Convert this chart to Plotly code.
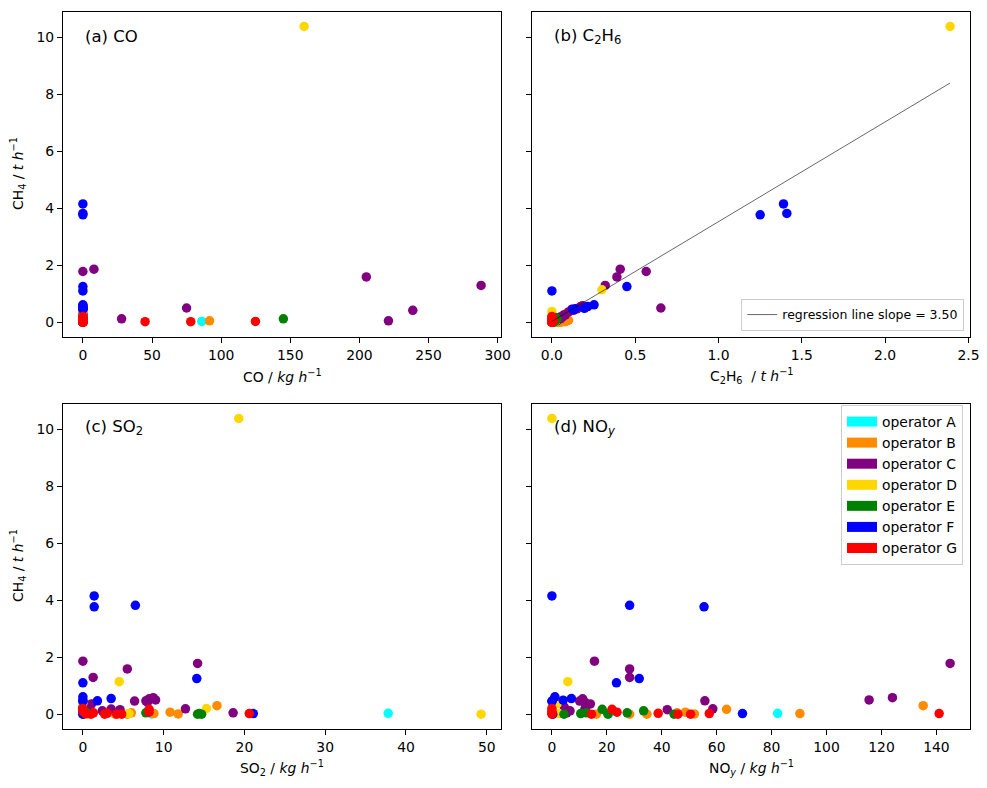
import plotly.graph_objects as go

# ---------------- data (one entry per source) ----------------
OPERATOR = (["A"] * 2 + ["B"] * 9 + ["C"] * 18 + ["D"] * 6 + ["E"] * 8 + ["F"] * 12 + ["G"] * 12)

CH4 = [
    # A
    0.03, 0.01,
    # B
    0.30, 0.17, 0.07, 0.05, 0.02, 0.01, 0.00, 0.00, 0.00,
    # C
    1.86, 1.78, 1.59, 1.29, 0.58, 0.50, 0.54, 0.47, 0.46, 0.42, 0.36, 0.25, 0.25, 0.12, 0.05, 0.16, 0.19, 0.18,
    # D
    10.38, 1.14, 0.38, 0.20, 0.02, 0.00,
    # E
    0.12, 0.17, 0.05, 0.00, 0.00, 0.02, 0.05, 0.00,
    # F
    4.15, 3.82, 3.77, 1.25, 1.10, 0.61, 0.55, 0.49, 0.47, 0.45, 0.02, 0.00,
    # G
    0.17, 0.07, 0.02, 0.02, 0.03, 0.00, 0.00, 0.00, 0.10, 0.00, 0.05, 0.20,
]

CO = [
    86, 0,
    0, 0, 0, 91.6, 0, 0, 0, 0, 0,
    8, 0, 205, 288, 0, 75, 0, 0, 0, 238.6, 0, 0, 0, 28, 221, 0, 0, 0,
    160, 0, 0, 0, 0, 0,
    145, 0, 0, 0, 0, 0, 0, 0,
    0, 0, 0, 0, 0, 0, 0, 0, 0, 0, 0, 0,
    0, 0, 45, 78, 124.8, 0, 0, 0, 0, 0, 0, 0,
]

C2H6 = [
    0.01, 0.00,
    0.085, 0.07, 0.10, 0.09, 0.08, 0.06, 0.05, 0.04, 0.03,
    0.41, 0.566, 0.39, 0.32, 0.183, 0.654, 0.17, 0.15, 0.12, 0.13, 0.10, 0.08, 0.07, 0.05, 0.03, 0.06, 0.06, 0.05,
    2.39, 0.30, 0.00, 0.00, 0.02, 0.00,
    0.03, 0.02, 0.02, 0.01, 0.01, 0.01, 0.02, 0.00,
    1.39, 1.41, 1.25, 0.45, 0.00, 0.253, 0.215, 0.195, 0.14, 0.125, 0.00, 0.00,
    0.00, 0.01, 0.00, 0.00, 0.00, 0.00, 0.00, 0.00, 0.00, 0.00, 0.00, 0.00,
]

SO2 = [
    37.8, 8.5,
    16.6, 0.2, 10.8, 6.0, 8.8, 11.8, 0.5, 4.0, 5.5,
    0.0, 14.2, 5.5, 1.27, 8.7, 9.0, 8.2, 7.8, 6.4, 8.0, 1.07, 0.0, 0.5, 2.4, 18.6, 4.6, 12.7, 3.5,
    19.3, 4.5, 0.0, 15.3, 5.7, 49.3,
    0.0, 0.0, 7.8, 14.2, 14.7, 14.4, 0.5, 0.0,
    1.4, 6.5, 1.4, 14.1, 0.0, 0.0, 3.5, 0.0, 1.8, 0.0, 21.1, 0.0,
    8.2, 8.2, 0.3, 20.6, 3.0, 1.0, 4.2, 4.8, 0.0, 2.7, 1.3, 0.0,
]

NOY = [
    82.2, 20.7,
    135.2, 63.6, 48.6, 45.6, 90.3, 51.9, 34.6, 28.3, 16.2,
    15.5, 145.0, 28.3, 28.3, 124.0, 115.5, 11.2, 55.7, 10.1, 12.0, 14.0, 12.3, 4.5, 6.6, 5.4, 42.0, 58.6, 12.0,
    0.0, 5.8, 2.0, 0.0, 2.5, 0.5,
    33.4, 18.3, 27.4, 20.4, 44.5, 10.5, 12.5, 4.4,
    0.0, 28.3, 55.4, 31.8, 23.5, 1.1, 7.1, 4.1, 0.1, 0.0, 69.4, 0.3,
    21.9, 23.7, 141.0, 57.3, 38.7, 45.9, 50.5, 14.4, 0.0, 0.0, 0.0, 0.0,
]

OPERATORS = ["A", "B", "C", "D", "E", "F", "G"]
COLORS = ["#00FFFF", "#FF8C00", "#800080", "#FFD700", "#008000", "#0000FF", "#FF0000"]

SLOPE = 3.50
INTERCEPT = 0.03

FONT = "DejaVu Sans"


def padded(vals, frac=0.05):
    lo, hi = min(vals), max(vals)
    span = hi - lo
    return [lo - frac * span, hi + frac * span]


fig = go.Figure()

panels = [(CO, "x", "y"), (C2H6, "x2", "y2"), (SO2, "x3", "y3"), (NOY, "x4", "y4")]
for vals, xa, ya in panels:
    for op, col in zip(OPERATORS, COLORS):
        idx = [i for i, o in enumerate(OPERATOR) if o == op]
        fig.add_trace(go.Scatter(
            x=[vals[i] for i in idx], y=[CH4[i] for i in idx],
            xaxis=xa, yaxis=ya, mode="markers",
            marker=dict(size=9.5, color=col, line=dict(width=0)),
            showlegend=False, hoverinfo="skip"))

# regression line in panel (b)
rx = [min(C2H6), max(C2H6)]
fig.add_trace(go.Scatter(
    x=rx, y=[SLOPE * v + INTERCEPT for v in rx], xaxis="x2", yaxis="y2",
    mode="lines", line=dict(color="black", width=0.6),
    name=f"regression line slope = {SLOPE:.2f}", legend="legend2", showlegend=True,
    hoverinfo="skip"))

# legend entries for operators (panel d)
for op, col in zip(OPERATORS, COLORS):
    fig.add_trace(go.Scatter(
        x=[None], y=[None], xaxis="x4", yaxis="y4", mode="lines",
        line=dict(color=col, width=10), name=f"operator {op}",
        legend="legend", showlegend=True))

y_range = padded(CH4)

axis_common = dict(
    showline=True, linecolor="black", linewidth=1, mirror=True,
    ticks="outside", ticklen=5, tickwidth=1, tickcolor="black",
    showgrid=False, zeroline=False, automargin=False,
    tickfont=dict(family=FONT, size=13.9, color="black"),
)

XL = [0.0638, 0.5076]
XR = [0.5390, 0.9828]
YT = [0.5723, 0.9852]
YB = [0.0749, 0.4877]

fig.update_layout(
    width=987, height=788, autosize=False,
    margin=dict(l=0, r=0, t=0, b=0, pad=0, autoexpand=False),
    paper_bgcolor="white", plot_bgcolor="white",
    font=dict(family=FONT, color="black"),
    xaxis=dict(axis_common, domain=XL, anchor="y", range=padded(CO), dtick=50),
    yaxis=dict(axis_common, domain=YT, anchor="x", range=y_range, dtick=2),
    xaxis2=dict(axis_common, domain=XR, anchor="y2", range=padded(C2H6), dtick=0.5, tickformat=".1f"),
    yaxis2=dict(axis_common, domain=YT, anchor="x2", range=y_range, dtick=2, showticklabels=False),
    xaxis3=dict(axis_common, domain=XL, anchor="y3", range=padded(SO2), dtick=10),
    yaxis3=dict(axis_common, domain=YB, anchor="x3", range=y_range, dtick=2),
    xaxis4=dict(axis_common, domain=XR, anchor="y4", range=padded(NOY), dtick=20),
    yaxis4=dict(axis_common, domain=YB, anchor="x4", range=y_range, dtick=2, showticklabels=False),
    legend=dict(
        x=0.9757, y=0.4860, xanchor="right", yanchor="top",
        bgcolor="white", bordercolor="#cccccc", borderwidth=1,
        font=dict(family=FONT, size=13.9, color="black"),
        itemwidth=30, tracegroupgap=0,
    ),
    legend2=dict(
        x=0.977, y=0.580, xanchor="right", yanchor="bottom",
        bgcolor="white", bordercolor="#cccccc", borderwidth=1,
        font=dict(family=FONT, size=12.5, color="black"),
        itemwidth=30,
    ),
    showlegend=True,
)

annotations = []
# panel labels
for txt, x, y in [
    ("(a) CO", 0.0841, 0.9543),
    ("(b) C<sub>2</sub>H<sub>6</sub>", 0.5593, 0.9543),
    ("(c) SO<sub>2</sub>", 0.0841, 0.4569),
    ("(d) NO<sub><i>y</i></sub>", 0.5593, 0.4569),
]:
    annotations.append(dict(text=txt, x=x, y=y, xref="paper", yref="paper",
                            xanchor="left", yanchor="middle", showarrow=False,
                            font=dict(family=FONT, size=16.5, color="black")))

# axis titles
xt = [
    ("CO / <i>kg h</i><sup>−1</sup>", 282 / 987, 1 - 376 / 788),
    ("C<sub>2</sub>H<sub>6</sub>  / <i>t h</i><sup>−1</sup>", 751 / 987, 1 - 376 / 788),
    ("SO<sub>2</sub> / <i>kg h</i><sup>−1</sup>", 282 / 987, 1 - 768 / 788),
    ("NO<sub><i>y</i></sub> / <i>kg h</i><sup>−1</sup>", 751 / 987, 1 - 768 / 788),
]
for txt, x, y in xt:
    annotations.append(dict(text=txt, x=x, y=y, xref="paper", yref="paper",
                            xanchor="center", yanchor="middle", showarrow=False,
                            font=dict(family=FONT, size=13.9, color="black")))
for y in [1 - 174 / 788, 1 - 566 / 788]:
    annotations.append(dict(text="CH<sub>4</sub> / <i>t h</i><sup>−1</sup>",
                            x=18 / 987, y=y, xref="paper", yref="paper",
                            xanchor="center", yanchor="middle", showarrow=False,
                            textangle=-90,
                            font=dict(family=FONT, size=13.9, color="black")))
fig.update_layout(annotations=annotations)

fig.write_html(
    "out.html",
    config={"responsive": False, "displayModeBar": False},
    post_script="document.documentElement.style.overflow='hidden';document.body.style.margin='0';document.body.style.overflow='hidden';",
)
